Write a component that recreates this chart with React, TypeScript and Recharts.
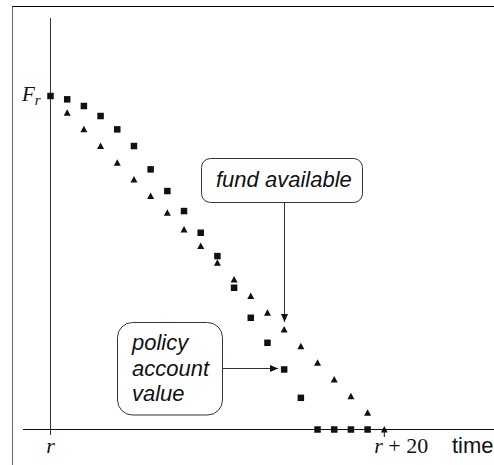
import { Customized, ReferenceLine, Scatter, ScatterChart, XAxis, YAxis } from "recharts";

// time steps r, r+1, ..., r+20
const steps = [0, 1, 2, 3, 4, 5, 6, 7, 8, 9, 10, 11, 12, 13, 14, 15, 16, 17, 18, 19, 20];

// policy account value (squares), steps 0..19, F_r = 100
const policyAccountValue = [100, 99, 97, 94, 90, 85, 78, 71.5, 65.5, 59, 52, 42.5, 33.5, 26, 18, 9.5, 0, 0, 0, 0];

// fund available (triangles), steps 1..20
const fundAvailable = [95, 90, 85, 80, 75, 70, 65, 60, 55, 50, 45, 40, 35, 30, 25, 20, 15, 10, 5, 0];

const xTicks = [0, 20];

const policyData = policyAccountValue.map((v, i) => ({ t: steps[i], v }));
const fundData = fundAvailable.map((v, i) => ({ t: steps[i + 1], v }));

const SERIF = "'Liberation Serif', 'Times New Roman', serif";
const SANS = "'Liberation Sans', Arial, sans-serif";
const INK = "#111";

const Square = (props: any) => {
  const { cx, cy } = props;
  return <rect x={cx - 3.25} y={cy - 3.25} width={6.5} height={6.5} fill={INK} />;
};

const Triangle = (props: any) => {
  const { cx, cy } = props;
  return <polygon points={`${cx - 3.5},${cy + 3} ${cx + 3.5},${cy + 3} ${cx},${cy - 3.5}`} fill={INK} />;
};

const TimeTick = (props: any) => {
  const { x, payload } = props;
  if (payload.value === 0) {
    return (
      <text x={x} y={453} textAnchor="middle" fontFamily={SERIF} fontSize={22} fontStyle="italic" fill={INK}>
        r
      </text>
    );
  }
  return (
    <g>
      <line x1={x} x2={x} y1={430} y2={437} stroke={INK} />
      <text x={x - 10} y={453} fontFamily={SERIF} fontSize={22} fill={INK}>
        <tspan fontStyle="italic">r</tspan>
        <tspan> + 20</tspan>
      </text>
    </g>
  );
};

// annotation boxes, arrows and free labels
const Notes = () => (
  <g>
    <defs>
      <marker id="head" markerWidth="8" markerHeight="7" refX="8" refY="3.5" orient="auto" markerUnits="userSpaceOnUse">
        <polygon points="0,0 8,3.5 0,7" fill={INK} />
      </marker>
    </defs>
    <text x={22} y={101} fontFamily={SERIF} fontSize={21} fill={INK}>
      <tspan fontStyle="italic">F</tspan>
      <tspan fontStyle="italic" fontSize={15} dy={4}>r</tspan>
    </text>

    <rect x={201.5} y={158.5} width={161} height={44} rx={9} fill="#fff" stroke="#333" />
    <text x={216} y={187} fontFamily={SANS} fontSize={22} fontStyle="italic" fill={INK}>
      fund available
    </text>
    <line x1={284.5} x2={284.5} y1={203} y2={322} stroke="#333" markerEnd="url(#head)" />

    <rect x={117.5} y={322.5} width={105} height={92.5} rx={15} fill="#fff" stroke="#333" />
    <text fontFamily={SANS} fontSize={22} fontStyle="italic" fill={INK}>
      <tspan x={132} y={350}>policy</tspan>
      <tspan x={132} y={375.5}>account</tspan>
      <tspan x={132} y={401}>value</tspan>
    </text>
    <line x1={223} x2={278} y1={368.5} y2={368.5} stroke="#333" markerEnd="url(#head)" />

    <text x={452} y={453} fontFamily={SANS} fontSize={22} fill={INK}>
      time
    </text>
  </g>
);

export default function App() {
  return (
    <div
      style={{
        position: "absolute",
        left: 0,
        top: 0,
        width: 494,
        height: 465,
        overflow: "hidden",
        background: "#fff",
      }}
    >
      <div
        style={{
          position: "absolute",
          left: 12,
          top: 6,
          width: 500,
          height: 480,
          borderTop: "1px solid #000",
          borderLeft: "1px solid #666",
        }}
      />
      <div style={{ position: "absolute", left: 0, top: 0 }}>
        <ScatterChart width={494} height={465} margin={{ top: 18, right: 0, bottom: 0, left: 23 }}>
          <XAxis
            type="number"
            dataKey="t"
            domain={[-1.648, 26.573]}
            allowDataOverflow
            ticks={xTicks}
            height={30}
            axisLine={false}
            tickLine={false}
            tick={<TimeTick />}
            interval={0}
          />
          <YAxis type="number" dataKey="v" domain={[-1.649, 123.39]} allowDataOverflow hide />
          <ReferenceLine x={0} stroke="#333" />
          <ReferenceLine y={0} stroke="#111" />
          <Scatter data={fundData} shape={<Triangle />} isAnimationActive={false} />
          <Scatter data={policyData} shape={<Square />} isAnimationActive={false} />
          <Customized component={<Notes />} />
        </ScatterChart>
      </div>
    </div>
  );
}
